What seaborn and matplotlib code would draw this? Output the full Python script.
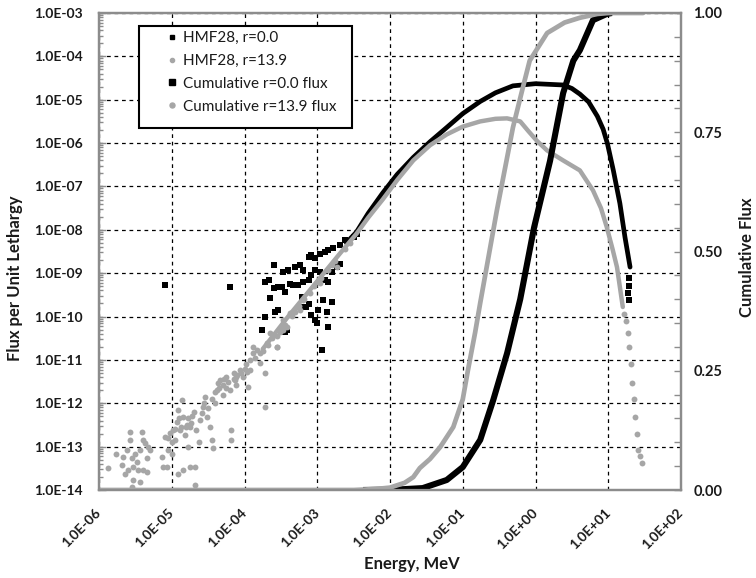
import numpy as np
import pandas as pd
import matplotlib
matplotlib.use("Agg")
import matplotlib.pyplot as plt
import seaborn as sns
from matplotlib.lines import Line2D
from matplotlib.patches import Rectangle
from matplotlib.ticker import (LogLocator, FixedLocator, MultipleLocator, FuncFormatter,
                               NullFormatter)

# values, stored as log10(energy MeV) / log10(flux)
# HMF28, r=0.0 -- scattered low-energy points and tail points
black_pts_logE = [-5.09, -4.20,
                  -3.60, -3.47, -3.40, -3.31, -3.24, -3.19, -3.12, -3.08, -3.03, -2.96, -2.89, -2.85, -2.78,
                  -2.69, -2.62, -2.50, -2.46,
                  -3.72, -3.67, -3.60, -3.54, -3.49, -3.44, -3.37, -3.33, -3.26, -3.19, -3.12, -3.08, -3.03,
                  -2.96, -2.89, -2.85, -2.80, -2.73, -2.69,
                  -3.65, -3.58, -3.54, -3.42, -3.44, -3.76, -3.72, -3.24, -3.15, -3.08, -3.03, -2.99, -2.92,
                  -2.87, -2.80, -2.85, -3.01, -2.93, -3.12, -3.21,
                  1.29, 1.28, 1.27, 1.28]
black_pts_logF = [-9.28, -9.32,
                  -8.82, -8.97, -8.93, -8.85, -8.82, -8.93, -8.62, -8.59, -8.66, -8.55, -8.51, -8.47, -8.43,
                  -8.36, -8.24, -8.16, -8.09,
                  -9.20, -9.16, -9.35, -9.32, -9.32, -9.43, -9.24, -9.28, -9.28, -9.20, -9.16, -9.05, -8.93,
                  -8.97, -9.16, -9.20, -8.97, -8.85, -8.78,
                  -9.58, -9.89, -9.85, -10.31, -10.35, -10.30, -10.02, -9.78, -9.78, -9.97, -10.08, -9.85, -9.62,
                  -9.89, -9.66, -10.25, -10.16, -10.77, -9.70, -9.55,
                  -9.10, -9.30, -9.45, -9.62]

# HMF28, r=0.0 -- dense part (points so close they read as a thick line)
black_line_logE = [-2.60, -2.46, -2.30, -2.10, -1.90, -1.68, -1.45, -1.22, -1.00, -0.76, -0.55, -0.31,
                   0.00, 0.38, 0.50, 0.61, 0.73, 0.85, 0.93, 0.99, 1.07, 1.16, 1.23, 1.30]
black_line_logF = [-8.30, -8.05, -7.62, -7.15, -6.72, -6.33, -5.97, -5.64, -5.32, -5.04, -4.84, -4.68,
                   -4.63, -4.66, -4.74, -4.87, -5.05, -5.38, -5.68, -6.02, -6.63, -7.39, -8.17, -8.86]

# HMF28, r=13.9 -- scattered points
grey_pts_logE = [-5.87, -5.76, -5.69, -5.67, -5.62, -5.57, -5.57, -5.55, -5.53, -5.60, -5.64, -5.53, -5.51,
                 -5.48, -5.46, -5.44, -5.41, -5.39, -5.37, -5.34, -5.32, -5.39, -5.34, -5.44, -5.55, -5.30,
                 -5.14, -5.12, -5.09, -5.07, -5.05, -5.02, -5.00, -4.98, -4.96, -4.93, -4.91, -4.89, -4.86,
                 -4.84, -4.82, -4.79, -4.77, -4.75, -4.73, -4.84, -4.91, -4.75, -4.68, -4.66, -4.61, -4.63,
                 -4.59, -4.57, -4.54, -4.52, -4.47, -4.45, -4.43, -4.41, -4.38, -4.36, -4.34, -4.29, -4.25,
                 -4.20, -4.18, -4.18, -4.15, -4.13, -4.11, -4.06, -4.02, -3.97, -3.95, -4.68,
                 -4.30, -4.25, -4.22, -4.15, -4.10, -4.05, -4.00, -3.98, -4.40, -4.45, -4.50, -4.55, -4.70,
                 -4.72, -4.78, -4.80, -4.87, -4.90, -4.95, -5.00, -5.05, -4.35, -4.28, -4.12,
                 -3.92, -3.88, -3.83, -3.79, -3.72, -3.72, -3.88, -3.69, -3.55, -3.65, -3.51, -3.42, -3.47,
                 -3.37, -3.28, -3.20, -3.47, -3.55, -3.79, -3.92, -3.24, -2.96, -2.73,
                 -3.85, -3.75, -3.68, -3.62, -3.56, -3.50, -3.45, -3.35, -3.30, -3.25, -3.18, -3.10, -3.05,
                 -3.00, -2.95, -2.85, -2.80, -2.75, -2.62, -2.55,
                 1.22, 1.24, 1.27, 1.29, 1.31, 1.33, 1.35, 1.37, 1.39, 1.41, 1.43, 1.46]
grey_pts_logF = [-13.50, -13.16, -13.42, -13.23, -13.08, -12.66, -12.85, -13.27, -13.46, -13.54, -13.62, -13.77,
                 -13.16, -13.35, -13.54, -13.08, -12.66, -12.85, -12.92, -13.27, -13.00, -13.54, -13.58, -13.81,
                 -13.92, -13.08,
                 -13.23, -13.46, -12.77, -13.46, -13.08, -12.69, -13.16, -12.62, -12.85, -12.43, -12.16, -12.62,
                 -11.93, -12.31, -12.73, -12.50, -13.00, -12.54, -12.46, -13.54, -13.62, -13.46, -13.46, -12.62,
                 -12.39, -12.89, -12.23, -12.08, -11.85, -12.31, -12.54, -12.85, -13.04, -12.00, -11.70, -11.54,
                 -11.47, -11.58, -11.39, -11.70, -12.62, -12.85, -11.31, -11.47, -11.58, -11.24, -11.39, -11.27,
                 -11.62, -13.88,
                 -11.80, -11.65, -11.50, -11.45, -11.35, -11.30, -11.20, -11.10, -11.75, -11.90, -12.10, -12.00,
                 -12.20, -12.30, -12.35, -12.55, -12.55, -12.35, -12.60, -12.90, -12.80, -11.65, -11.45, -11.40,
                 -11.00, -10.84, -10.77, -10.84, -11.30, -12.09, -10.70, -10.61, -10.70, -10.38, -10.36, -10.24,
                 -10.08, -9.92, -9.78, -9.62, -10.31, -10.70, -11.07, -11.24, -9.85, -9.23, -8.86,
                 -10.95, -10.80, -10.65, -10.50, -10.45, -10.25, -10.20, -9.98, -9.90, -9.75, -9.60, -9.45, -9.30,
                 -9.20, -9.12, -8.92, -8.80, -8.72, -8.45, -8.30,
                 -9.95, -10.10, -10.38, -10.70, -11.10, -11.53, -11.90, -12.32, -12.70, -13.08, -13.22, -13.38]

# HMF28, r=13.9 -- dense part
grey_line_logE = [-3.75, -3.60, -3.40, -3.15, -2.90, -2.69, -2.46, -2.30, -2.10, -1.90, -1.68, -1.45, -1.22,
                  -1.00, -0.76, -0.55, -0.39, -0.21, -0.10, 0.02, 0.16, 0.38, 0.61, 0.79, 0.90, 0.98, 1.06,
                  1.12, 1.20]
grey_line_logF = [-10.75, -10.43, -10.00, -9.49, -8.98, -8.55, -8.09, -7.72, -7.30, -6.85, -6.40, -6.05, -5.80,
                  -5.62, -5.50, -5.44, -5.43, -5.50, -5.72, -5.95, -6.17, -6.40, -6.63, -7.09, -7.50, -7.94,
                  -8.45, -8.86, -9.78]

# cumulative flux (right axis)
cum0_logE = [-2.37, -1.90, -1.55, -1.22, -1.00, -0.76, -0.58, -0.39, -0.21, -0.02, 0.20, 0.38, 0.52, 0.61,
             0.79, 0.98, 1.05]
cum0_val = [0.0, 0.001, 0.004, 0.021, 0.048, 0.105, 0.189, 0.287, 0.40, 0.55, 0.69, 0.832, 0.90, 0.922,
            0.985, 0.998, 1.0]
cum13_logE = [-6.0, -2.5, -2.2, -2.0, -1.8, -1.68, -1.59, -1.45, -1.31, -1.13, -1.00, -0.93, -0.83, -0.76,
              -0.53, -0.31, -0.18, -0.08, 0.16, 0.40, 0.61, 0.85, 1.0, 1.48]
cum13_val = [0.0, 0.0, 0.002, 0.005, 0.015, 0.027, 0.046, 0.065, 0.09, 0.132, 0.19, 0.25, 0.33, 0.392,
             0.587, 0.76, 0.84, 0.90, 0.958, 0.98, 0.99, 0.998, 1.0, 1.0]

# axis decades shown on the chart
x_decades = [-6, -5, -4, -3, -2, -1, 0, 1, 2]
y_decades = [-14, -13, -12, -11, -10, -9, -8, -7, -6, -5, -4, -3]

labels = ["HMF28, r=0.0", "HMF28, r=13.9", "Cumulative r=0.0 flux", "Cumulative r=13.9 flux"]

BLACK = "#000000"
GREY = "#a6a6a6"
SPINE = "#8c8c8c"
TXT = "#1a1a1a"

sns.set_style("white")
plt.rcParams["font.family"] = ["Lato", "DejaVu Sans"]

W, H = 756, 578
L, R, T, B = 99, 681, 13, 490  # plot area in pixels


def ax_frac(px, py):
    return (px - L) / (R - L), (B - py) / (B - T)


fig = plt.figure(figsize=(W / 100, H / 100), dpi=100)
ax = fig.add_axes([L / W, 1 - B / H, (R - L) / W, (B - T) / H])
ax.set_xscale("log")
ax.set_yscale("log")
ax.set_xlim(1e-6, 1e2)
ax.set_ylim(1e-14, 1e-3)


def tolin(v):
    return 10 ** np.array(v, dtype=float)


# flux series
sns.scatterplot(x=tolin(black_pts_logE), y=tolin(black_pts_logF), ax=ax, marker="s", s=14,
                color=BLACK, linewidth=0, zorder=3)
sns.lineplot(x=tolin(black_line_logE), y=tolin(black_line_logF), ax=ax, color=BLACK, lw=3.4,
             sort=False, estimator=None, zorder=3)
sns.scatterplot(x=tolin(grey_pts_logE), y=tolin(grey_pts_logF), ax=ax, marker="o", s=18,
                color=GREY, linewidth=0, zorder=4)
sns.lineplot(x=tolin(grey_line_logE), y=tolin(grey_line_logF), ax=ax, color=GREY, lw=3.2,
             sort=False, estimator=None, zorder=4)

ax.grid(True, which="major", color="black", linestyle=(0, (3, 3)), lw=0.9)
ax.set_axisbelow(True)

# cumulative series on the right axis
ax2 = ax.twinx()
ax2.set_ylim(0, 1)
sns.lineplot(x=tolin(cum0_logE), y=cum0_val, ax=ax2, color=BLACK, lw=4.4, sort=False,
             estimator=None, solid_capstyle="butt")
sns.lineplot(x=tolin(cum13_logE), y=cum13_val, ax=ax2, color=GREY, lw=3.4, sort=False,
             estimator=None, solid_capstyle="round")
ax2.set_xlim(1e-6, 1e2)

# ticks
efmt = FuncFormatter(lambda v, p: f"{v:.1E}")
ax.xaxis.set_major_locator(FixedLocator(tolin(x_decades)))
ax.yaxis.set_major_locator(FixedLocator(tolin(y_decades)))
for axis in (ax.xaxis, ax.yaxis):
    axis.set_minor_locator(LogLocator(base=10, subs=np.arange(2, 10), numticks=20))
    axis.set_major_formatter(efmt)
    axis.set_minor_formatter(NullFormatter())
ax.tick_params(which="both", direction="in", color=SPINE, width=1)
ax.tick_params(which="major", length=5)
ax.tick_params(which="minor", length=3)
ax.tick_params(axis="y", pad=11.5, labelsize=10, labelcolor=TXT)
ax.tick_params(axis="x", pad=15, labelsize=10, labelcolor=TXT)
for lab in ax.get_yticklabels():
    lab.set_fontweight("bold")
for lab in ax.get_xticklabels():
    lab.set_fontweight("bold")
    lab.set_rotation(45)
    lab.set_ha("right")
    lab.set_va("center")
    lab.set_rotation_mode("anchor")

ax2.yaxis.set_major_locator(MultipleLocator(0.25))
ax2.yaxis.set_minor_locator(MultipleLocator(0.05))
ax2.yaxis.set_major_formatter(FuncFormatter(lambda v, p: f"{v:.2f}"))
ax2.tick_params(which="both", direction="in", color=SPINE, width=1, length=5)
ax2.tick_params(axis="y", pad=9, labelsize=10.5, labelcolor=TXT)
for lab in ax2.get_yticklabels():
    lab.set_fontweight("bold")

for a in (ax, ax2):
    for sp in a.spines.values():
        sp.set_color(SPINE)
        sp.set_linewidth(1.6)

ax.set_xlabel("Energy, MeV", fontsize=12, fontweight="bold", color=TXT)
ax.xaxis.set_label_coords(*ax_frac(412, 556))
ax.set_ylabel("Flux per Unit Lethargy", fontsize=12, fontweight="bold", color=TXT)
ax.yaxis.set_label_coords(ax_frac(23, 0)[0], ax_frac(0, 278)[1])
ax2.set_ylabel("Cumulative Flux", fontsize=12, fontweight="bold", color=TXT, rotation=90)
ax2.yaxis.set_label_coords(ax_frac(739, 0)[0], ax_frac(0, 257)[1])

# legend: frame drawn separately so the markers sit well inside it as in the original
handles = [
    Line2D([], [], marker="s", ls="", color=BLACK, markersize=2.8),
    Line2D([], [], marker="o", ls="", color=GREY, markersize=3.0),
    Line2D([], [], marker="s", ls="", color=BLACK, markersize=4.0),
    Line2D([], [], marker="o", ls="", color=GREY, markersize=3.6),
]
x0, y0 = ax_frac(139, 26)
x1, y1 = ax_frac(352, 128)
ax2.add_patch(Rectangle((x0, y1), x1 - x0, y0 - y1, transform=ax2.transAxes, facecolor="white",
                        edgecolor="black", lw=1.5, zorder=5))
leg = ax2.legend(handles, labels, loc="upper left", bbox_to_anchor=ax_frac(167, 31),
                 borderaxespad=0, frameon=False, handlelength=0.6, handletextpad=0.45,
                 labelspacing=0.58, borderpad=0, fontsize=11)
leg.set_zorder(6)
for t in leg.get_texts():
    t.set_color(TXT)

fig.savefig("out.png", dpi=100)
